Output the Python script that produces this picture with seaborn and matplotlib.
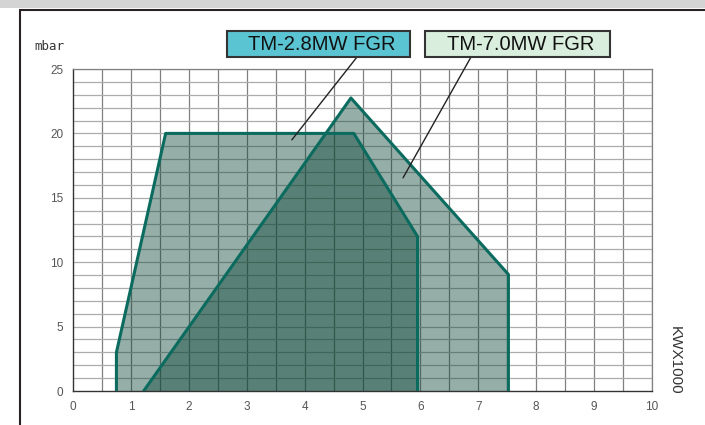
import matplotlib
matplotlib.use("Agg")
import matplotlib.pyplot as plt
import seaborn as sns
import pandas as pd
from matplotlib.patches import Rectangle
from matplotlib.lines import Line2D

# ---- data ----
a_label = "TM-2.8MW FGR"
a_x = [0.75, 0.75, 1.6, 4.85, 5.95, 5.95]
a_y = [0.0, 3.0, 20.0, 20.0, 12.0, 0.0]

b_label = "TM-7.0MW FGR"
b_x = [1.22, 4.8, 7.52, 7.52]
b_y = [0.0, 22.75, 9.05, 0.0]

x_ticks = [0, 1, 2, 3, 4, 5, 6, 7, 8, 9, 10]
y_ticks = [0, 5, 10, 15, 20, 25]
y_unit = "mbar"
x_unit = "KWX1000"

sns.set_style("white")
plt.rcParams['font.family'] = ['Liberation Sans', 'DejaVu Sans']

W, H = 705, 425
fig = plt.figure(figsize=(W / 100, H / 100), dpi=100)
ax = fig.add_axes([73 / W, 1 - 391 / H, (652 - 73) / W, (391 - 69) / H])

fill_c = (11 / 255, 69 / 255, 53 / 255)
edge_c = "#0b6b5e"

# grid
for xv in [i * 0.5 for i in range(1, 21)]:
    ax.axvline(xv, color="#808080", lw=0.9, zorder=1)
for yv in range(1, 26):
    ax.axhline(yv, color="#acacac", lw=0.9, zorder=1)

for xs, ys in [(a_x, a_y), (b_x, b_y)]:
    ax.fill(xs, ys, color=fill_c, alpha=0.43, lw=0, zorder=2)
    df = pd.DataFrame({"x": xs, "y": ys})
    sns.lineplot(data=df, x="x", y="y", sort=False, color=edge_c, lw=2.2,
                 ax=ax, zorder=3, estimator=None)

ax.set_xlim(0, 10)
ax.set_ylim(0, 25)
ax.set_xticks(x_ticks)
ax.set_yticks(y_ticks)
ax.set_xlabel("")
ax.set_ylabel("")
ax.tick_params(axis="both", direction="out", length=4, width=0.9,
               colors="#444444", labelsize=8.5, labelcolor="#555555", pad=3)
for s in ["top", "right"]:
    ax.spines[s].set_color("#808080")
    ax.spines[s].set_linewidth(0.9)
for s in ["left", "bottom"]:
    ax.spines[s].set_color("#333333")
    ax.spines[s].set_linewidth(1.0)

# unit labels
fig.text(49 / W, 1 - 46 / H, y_unit, ha="center", va="center", fontsize=9,
         color="#333333", family=["DejaVu Sans Mono", "DejaVu Sans"])
fig.text(675 / W, 1 - 360 / H, x_unit, ha="center", va="center", fontsize=11,
         color="#333333", rotation=-90)

# legend boxes
def box(x0, x1, fc, txt):
    r = Rectangle((x0 / W, 1 - 57 / H), (x1 - x0) / W, 26 / H,
                  transform=fig.transFigure, facecolor=fc,
                  edgecolor="#333333", lw=1.5)
    fig.add_artist(r)
    fig.text((x0 + x1) / 2 / W + 3 / W, 1 - 44 / H, txt, ha="center", va="center",
             fontsize=14.5, color="#111111", transform=fig.transFigure)

box(227, 410, "#5bc4d2", a_label)
box(425, 610, "#d9eedd", b_label)

# leader lines
ax.plot([4.905, 3.78], [25.93, 19.5], color="#222222", lw=1.0, clip_on=False, zorder=5)
ax.plot([6.874, 5.70], [25.93, 16.55], color="#222222", lw=1.0, clip_on=False, zorder=5)

# page frame
fig.add_artist(Rectangle((0, 1 - 8 / H), 1, 8 / H, transform=fig.transFigure,
                         facecolor="#d4d4d4", edgecolor="none"))
fig.add_artist(Line2D([20 / W, 1], [1 - 10 / H, 1 - 10 / H], transform=fig.transFigure,
                      color="#2a2222", lw=1.5))
fig.add_artist(Line2D([20 / W, 20 / W], [0, 1 - 10 / H], transform=fig.transFigure,
                      color="#2a2222", lw=1.5))

fig.savefig("out.png", dpi=100)
